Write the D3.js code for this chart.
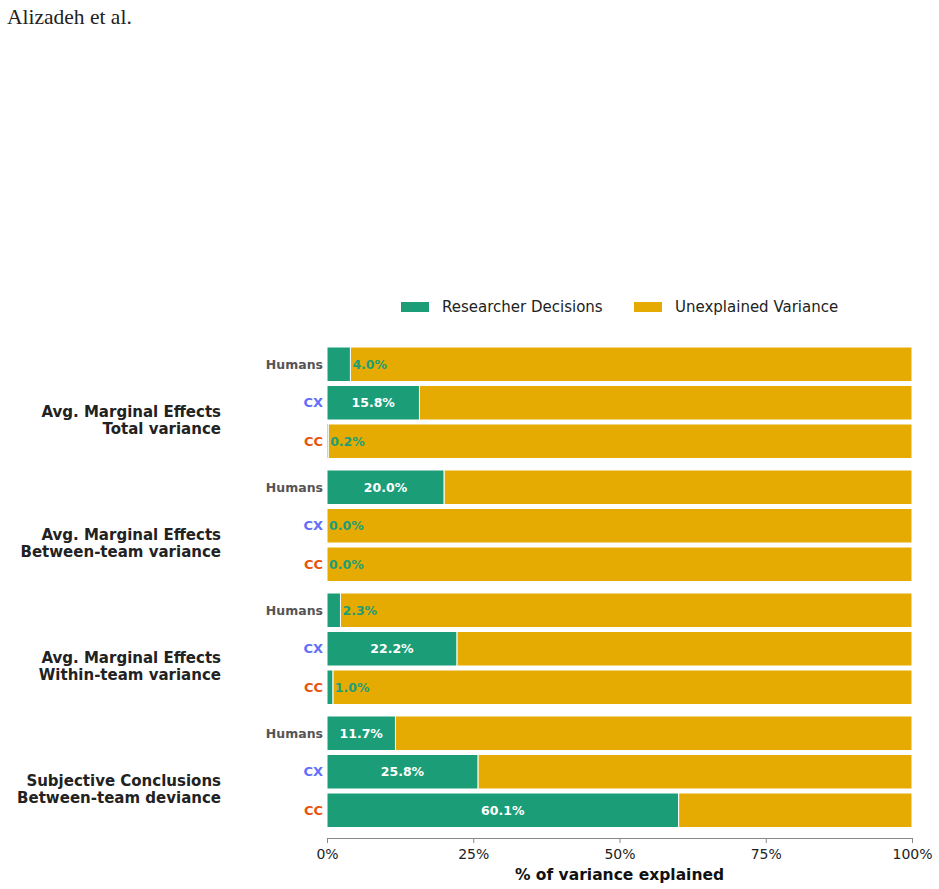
<!DOCTYPE html>
<html>
<head>
<meta charset="utf-8">
<script src="https://cdn.jsdelivr.net/npm/d3@7"></script>
<style>
  body { margin: 0; background: #fff; }
  svg { display: block; }
</style>
</head>
<body>
<script>
// data
const groups = [
  ["Avg. Marginal Effects", "Total variance"],
  ["Avg. Marginal Effects", "Between-team variance"],
  ["Avg. Marginal Effects", "Within-team variance"],
  ["Subjective Conclusions", "Between-team deviance"]
];
const sources = ["Humans", "CX", "CC"];
const researcherPct = [
  [4.0, 15.8, 0.2],
  [20.0, 0.0, 0.0],
  [2.3, 22.2, 1.0],
  [11.7, 25.8, 60.1]
];
const xTicks = [0, 25, 50, 75, 100];
const legendLabels = ["Researcher Decisions", "Unexplained Variance"];

const width = 939, height = 889;
const green = "#1b9e77", gold = "#e6ab02";
const srcColor = { Humans: "#555555", CX: "#636efa", CC: "#e6550d" };

const svg = d3.select("body").append("svg")
  .attr("width", width).attr("height", height)
  .style("font-family", "DejaVu Sans, sans-serif");

svg.append("text")
  .attr("x", 7).attr("y", 24)
  .attr("font-family", "Liberation Serif, serif")
  .attr("font-size", 21.5)
  .attr("fill", "#222")
  .text("Alizadeh et al.");

const x = d3.scaleLinear().domain([0, 100]).range([327, 912]);

// flatten into rows
const rows = [];
groups.forEach((g, gi) => {
  sources.forEach((s, si) => {
    rows.push({ gi, si, src: s, v: researcherPct[gi][si] });
  });
});

const groupTop = d3.scaleLinear().domain([0, 3]).range([347, 716]);
const pitch = 38.5, barH = 34.5;
const rowY = d => groupTop(d.gi) + d.si * pitch;

const bars = svg.append("g");

// unexplained part
bars.selectAll("rect.unexp")
  .data(rows)
  .join("rect")
  .attr("class", "unexp")
  .attr("x", d => x(d.v))
  .attr("y", rowY)
  .attr("width", d => x(100) - x(d.v))
  .attr("height", barH)
  .attr("fill", gold)
  .attr("stroke", "#fff")
  .attr("stroke-width", 1);

bars.selectAll("rect.res")
  .data(rows.filter(d => d.v > 0))
  .join("rect")
  .attr("class", "res")
  .attr("x", x(0))
  .attr("y", rowY)
  .attr("width", d => x(d.v) - x(0))
  .attr("height", barH)
  .attr("fill", green)
  .attr("stroke", "#fff")
  .attr("stroke-width", 1);

// value labels: inside when wide enough, else just after the bar
bars.selectAll("text.val")
  .data(rows)
  .join("text")
  .attr("class", "val")
  .attr("x", d => d.v >= 10 ? (x(0) + x(d.v)) / 2 : x(d.v) + 2)
  .attr("y", d => rowY(d) + barH / 2)
  .attr("dy", "0.35em")
  .attr("text-anchor", d => d.v >= 10 ? "middle" : "start")
  .attr("font-size", 12.5)
  .attr("font-weight", "bold")
  .attr("fill", d => d.v >= 10 ? "#fff" : green)
  .text(d => d.v.toFixed(1) + "%");

// source labels
svg.append("g").selectAll("text")
  .data(rows)
  .join("text")
  .attr("x", 323)
  .attr("y", d => rowY(d) + barH / 2)
  .attr("dy", "0.35em")
  .attr("text-anchor", "end")
  .attr("font-size", d => d.src === "Humans" ? 12.5 : 13)
  .attr("font-weight", "bold")
  .attr("fill", d => srcColor[d.src])
  .text(d => d.src);

// group labels
const gl = svg.append("g").selectAll("text")
  .data(groups)
  .join("text")
  .attr("text-anchor", "end")
  .attr("font-size", 15)
  .attr("font-weight", "bold")
  .attr("fill", "#222");
gl.each(function(d, i) {
  const mid = groupTop(i) + pitch + barH / 2;
  d3.select(this).selectAll("tspan")
    .data(d)
    .join("tspan")
    .attr("x", 221)
    .attr("y", (t, j) => mid + 14 + j * 17.5)
    .text(t => t);
});

// x axis
const axis = svg.append("g")
  .attr("transform", "translate(0,838)")
  .call(d3.axisBottom(x).tickValues(xTicks).tickFormat(d => d + "%").tickSizeOuter(0).tickSize(5));
axis.select(".domain").attr("stroke", "#888");
axis.selectAll(".tick line").attr("stroke", "#888");
axis.selectAll(".tick text")
  .attr("font-size", 14)
  .attr("font-family", "DejaVu Sans, sans-serif")
  .attr("fill", "#222")
  .attr("dy", "0.95em");

svg.append("text")
  .attr("x", x(50)).attr("y", 880)
  .attr("text-anchor", "middle")
  .attr("font-size", 15.5)
  .attr("font-weight", "bold")
  .attr("fill", "#111")
  .text("% of variance explained");

// legend
const legend = svg.append("g");
const legX = [401, 634];
legend.selectAll("rect")
  .data(legendLabels)
  .join("rect")
  .attr("x", (d, i) => legX[i])
  .attr("y", 302)
  .attr("width", 28)
  .attr("height", 10)
  .attr("fill", (d, i) => i === 0 ? green : gold);
legend.selectAll("text")
  .data(legendLabels)
  .join("text")
  .attr("x", (d, i) => legX[i] + 41)
  .attr("y", 307)
  .attr("dy", "0.35em")
  .attr("font-size", 15)
  .attr("fill", "#222")
  .text(d => d);
</script>
</body>
</html>
